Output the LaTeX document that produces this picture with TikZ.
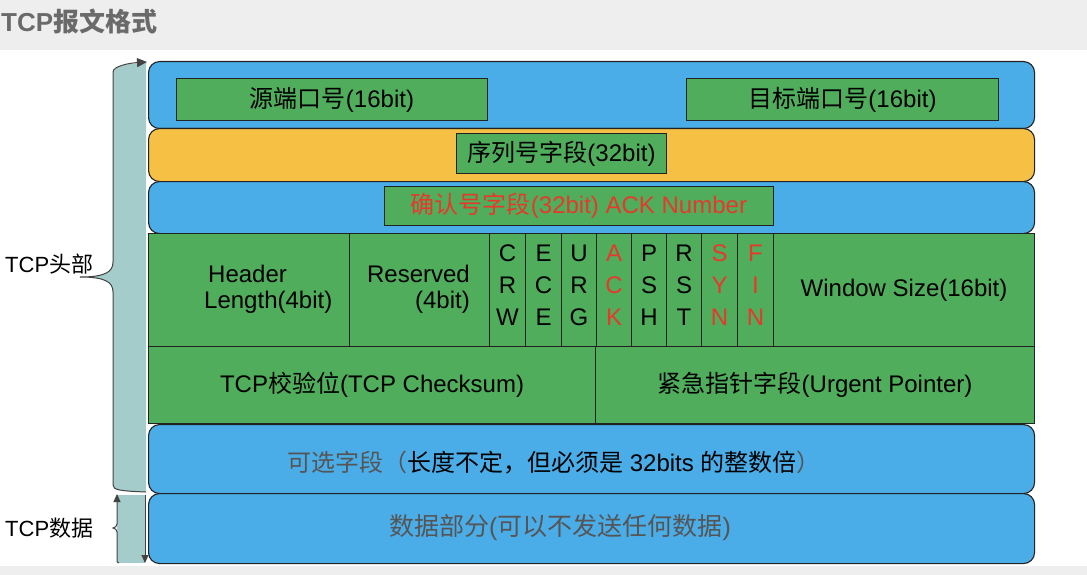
\documentclass[tikz,border=0pt]{standalone}
\usepackage{fontspec}
\setmainfont{Liberation Sans}
\newfontfamily\cjk{Noto Sans CJK SC}
\usetikzlibrary{arrows.meta}
\definecolor{rowblue}{HTML}{4AADE8}
\definecolor{rowyellow}{HTML}{F6C045}
\definecolor{fgreen}{HTML}{4FAD5B}
\definecolor{braceteal}{HTML}{A3CCCB}
\definecolor{flagred}{HTML}{E8382C}
\definecolor{txtgray}{HTML}{555555}
\definecolor{titlegray}{HTML}{6A6A6A}
\definecolor{bandgray}{HTML}{EEEEEE}
\definecolor{edge}{HTML}{222222}
\tikzset{
  rowbox/.style={draw=edge, line width=1.1pt, rounded corners=11pt, inner sep=0pt, anchor=north west},
  cellbox/.style={draw=edge, line width=1.1pt, fill=fgreen, inner sep=0pt, anchor=north west},
  fieldbox/.style={draw=edge, line width=1pt, fill=fgreen, inner sep=0pt, anchor=north west,
    font=\fontsize{24}{26}\selectfont},
  txt/.style={inner sep=0pt, font=\fontsize{24}{26}\selectfont},
  flagtxt/.style={inner sep=0pt, align=center, font=\fontsize{24}{32}\selectfont},
  sidetxt/.style={inner sep=0pt, font=\fontsize{22}{24}\selectfont},
  braceline/.style={draw=edge!85, line width=1pt},
}
\begin{document}
\begin{tikzpicture}[x=1pt,y=-1pt]
\useasboundingbox (0,0) rectangle (1087,575);
% background bands
\fill[bandgray] (0,0) rectangle (1087,50);
\fill[bandgray] (0,566) rectangle (1087,575);
% title
\node[inner sep=0pt, anchor=west, text=titlegray, font=\fontsize{26}{28}\selectfont\bfseries] (title) at (1,22) {TCP{\cjk\bfseries 报文格式}};

% upper brace
\fill[braceteal] (146,63) .. controls (130,63) and (113,66) .. (113,72) -- (113,262)
  .. controls (113,272) and (105,277) .. (80,277) .. controls (105,277) and (113,282) .. (113,292)
  -- (113,485) .. controls (113,490) and (120,491) .. (146,492) -- cycle;
\draw[braceline, -{Triangle[length=10pt,width=9pt]}] (146,492) .. controls (120,491) and (113,490) .. (113,485) -- (113,292)
  .. controls (113,282) and (105,277) .. (80,277) .. controls (105,277) and (113,272) .. (113,262)
  -- (113,72) .. controls (113,66) and (130,63) .. (147,62);
% lower brace
\fill[braceteal] (117,495) rectangle (145,563);
\draw[braceline, -{Triangle[length=8pt,width=7pt]}] (119,563) .. controls (117,563) and (117,562) .. (117,558) -- (117,532)
  .. controls (117,530) and (115,528) .. (113,528) .. controls (115,528) and (117,526) .. (117,524) -- (117,494);
\draw[braceline, -{Triangle[length=8pt,width=7pt]}] (145,495) -- (145,563);

\node[sidetxt, anchor=west] (hdr) at (5,264) {TCP{\cjk 头部}};
\node[sidetxt, anchor=west] (dat) at (5,528) {TCP{\cjk 数据}};

% row 1: ports
\node[rowbox, fill=rowblue, minimum width=886pt, minimum height=67pt] (r1) at (148,61) {};
\node[fieldbox, minimum width=311pt, minimum height=42pt] (sport) at (176,78) {{\cjk 源端口号}(16bit)};
\node[fieldbox, minimum width=312pt, minimum height=42pt] (dport) at (686,78) {{\cjk 目标端口号}(16bit)};

% row 2: sequence
\node[rowbox, fill=rowyellow, minimum width=886pt, minimum height=53pt] (r2) at (148,128) {};
\node[fieldbox, minimum width=210pt, minimum height=40pt] (seq) at (456,133) {{\cjk 序列号字段}(32bit)};

% row 3: ack
\node[rowbox, fill=rowblue, minimum width=886pt, minimum height=52pt] (r3) at (148,181) {};
\node[fieldbox, minimum width=389pt, minimum height=39pt, text=flagred] (ackn) at (384,186) {{\cjk 确认号字段}(32bit) ACK Number};

% row 4: header length, reserved, flags, window
\node[cellbox, minimum width=201pt, minimum height=113pt] (hlen) at (148,233) {};
\node[cellbox, minimum width=140pt, minimum height=113pt] (resv) at (349,233) {};
\node[cellbox, minimum width=36pt, minimum height=113pt] (cwr) at (489,233) {};
\node[cellbox, minimum width=36pt, minimum height=113pt] (ece) at (525,233) {};
\node[cellbox, minimum width=35pt, minimum height=113pt] (urg) at (561,233) {};
\node[cellbox, minimum width=35pt, minimum height=113pt] (ack) at (596,233) {};
\node[cellbox, minimum width=35pt, minimum height=113pt] (psh) at (631,233) {};
\node[cellbox, minimum width=35pt, minimum height=113pt] (rst) at (666,233) {};
\node[cellbox, minimum width=36pt, minimum height=113pt] (syn) at (701,233) {};
\node[cellbox, minimum width=36pt, minimum height=113pt] (fin) at (737,233) {};
\node[cellbox, minimum width=261pt, minimum height=113pt] (win) at (773,233) {};

\node[txt, align=left, anchor=west] (hlenl) at (204,289) {\hspace*{4pt}Header\\Length(4bit)};
\node[txt, align=right, anchor=east] (resvl) at (470,289) {Reserved\\(4bit)};
\node[flagtxt] (cwrl) at ([yshift=5pt]cwr.center) {C\\R\\W};
\node[flagtxt] (ecel) at ([yshift=5pt]ece.center) {E\\C\\E};
\node[flagtxt] (urgl) at ([yshift=5pt]urg.center) {U\\R\\G};
\node[flagtxt, text=flagred] (ackl) at ([yshift=5pt]ack.center) {A\\C\\K};
\node[flagtxt] (pshl) at ([yshift=5pt]psh.center) {P\\S\\H};
\node[flagtxt] (rstl) at ([yshift=5pt]rst.center) {R\\S\\T};
\node[flagtxt, text=flagred] (synl) at ([yshift=5pt]syn.center) {S\\Y\\N};
\node[flagtxt, text=flagred] (finl) at ([yshift=5pt]fin.center) {F\\I\\N};
\node[txt] (winl) at (win.center) {Window Size(16bit)};

% row 5: checksum, urgent pointer
\node[cellbox, minimum width=447pt, minimum height=77pt] (csum) at (148,346) {};
\node[cellbox, minimum width=439pt, minimum height=77pt] (urgp) at (595,346) {};
\node[txt] (csuml) at (csum.center) {TCP{\cjk 校验位}(TCP Checksum)};
\node[txt] (urgpl) at (urgp.center) {{\cjk 紧急指针字段}(Urgent Pointer)};

% row 6: options
\node[rowbox, fill=rowblue, minimum width=886pt, minimum height=69pt] (r6) at (148,424) {};
\node[txt, anchor=west] (optl) at (287,463) {{\cjk\color{txtgray}可选字段（}{\cjk 长度不定，但必须是} 32bits {\cjk 的整数倍}{\cjk\color{txtgray}）}};

% row 7: data
\node[rowbox, fill=rowblue, minimum width=886pt, minimum height=70pt] (r7) at (148,493) {};
\node[txt, text=txtgray, font=\fontsize{25}{27}\selectfont] (datal) at (560,528) {{\cjk 数据部分}({\cjk 可以不发送任何数据})};
\end{tikzpicture}
\end{document}
